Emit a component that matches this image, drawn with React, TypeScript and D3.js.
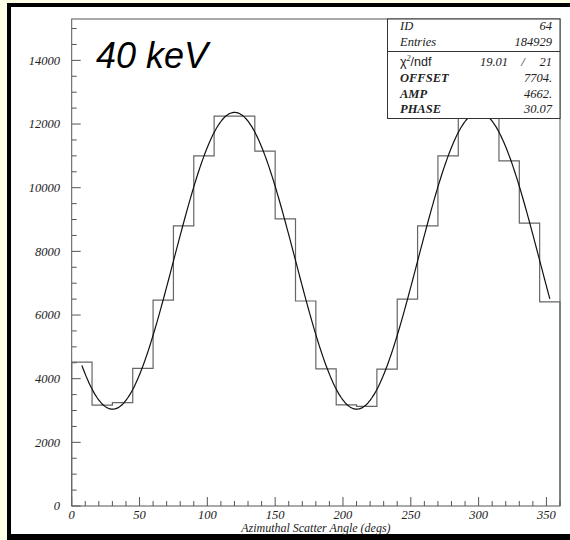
import React, { useEffect } from 'react';
import * as d3 from 'd3';

// histogram: 24 bins of 15 degrees, counts
const binEdges = d3.range(0, 361, 15);
const counts = [
  4520, 3170, 3245, 4325, 6470, 8800, 11000, 12250, 12250, 11150, 9020, 6440,
  4305, 3175, 3130, 4300, 6500, 8800, 11000, 12250, 12250, 10840, 8890, 6410,
];

// fit parameters from the stats box
const fitOffset = 7704;
const fitAmp = 4662;
const fitPhase = 30.07;

const xTicks = [0, 50, 100, 150, 200, 250, 300, 350];
const yTicks = [0, 2000, 4000, 6000, 8000, 10000, 12000, 14000];

const statsRows = [
  { label: 'ID', value: '64' },
  { label: 'Entries', value: '184929' },
];
const fitRows = [
  { label: 'OFFSET', value: '7704.' },
  { label: 'AMP', value: '4662.' },
  { label: 'PHASE', value: '30.07' },
];
const chi2 = '19.01';
const ndf = '21';

const W = 570;
const H = 540;
const serif = '"Liberation Serif", "Times New Roman", serif';
const sans = '"Liberation Sans", Arial, sans-serif';

const App = () => {
  useEffect(() => {
    document.body.style.margin = '0';
    document.body.style.overflow = 'hidden';
  }, []);

  const margin = { left: 71.7, right: 560, top: 19, bottom: 506 };
  const x = d3.scaleLinear().domain([0, 360]).range([margin.left, margin.right]);
  const y = d3.scaleLinear().domain([0, 15300]).range([margin.bottom, margin.top]);

  // step outline of the histogram
  let hist = `M${x(0)},${y(0)}`;
  counts.forEach((c, i) => {
    hist += `V${y(c)}H${x(binEdges[i + 1])}`;
  });
  hist += `V${y(0)}`;

  // fit function drawn between first and last bin centre
  const fit = (a: number) => fitOffset - fitAmp * Math.cos((2 * (a - fitPhase) * Math.PI) / 180);
  const fitPts = d3.range(7.5, 352.51, 1).map((a) => [a, fit(a)] as [number, number]);
  const fitLine = d3
    .line<[number, number]>()
    .x((d) => x(d[0]))
    .y((d) => y(d[1]))
    .curve(d3.curveMonotoneX);

  const xMinor = d3.range(0, 361, 10).filter((v) => v % 50 !== 0);
  const yMinor = d3.range(0, 15001, 500).filter((v) => v % 2000 !== 0);

  const axisColor = '#555';
  const textColor = '#222';

  // stats box geometry
  const boxL = 387.5;
  const boxR = margin.right;
  const boxT = margin.top;
  const boxB = 118.5;
  const sepY = 51.5;
  const labelX = 400;
  const valueX = 552;

  return (
    <svg
      width={W}
      height={H}
      style={{ position: 'absolute', left: 0, top: 0, display: 'block', background: '#fffee6' }}
    >
      <rect x={0} y={0} width={W} height={H} fill="#fffee6" />
      <rect x={9} y={5} width={W + 10} height={531} fill="#fff" stroke="#000" strokeWidth={4} />
      <rect x={7} y={534} width={W} height={6} fill="#000" />

      {/* frame */}
      <rect
        x={margin.left}
        y={margin.top}
        width={margin.right - margin.left}
        height={margin.bottom - margin.top}
        fill="none"
        stroke={axisColor}
        strokeWidth={1}
      />

      {/* y ticks */}
      {yTicks.map((v) => (
        <g key={`y${v}`}>
          <line x1={x(0)} x2={x(0) + 9} y1={y(v)} y2={y(v)} stroke={axisColor} />
          <text
            x={60}
            y={y(v)}
            dy="0.35em"
            textAnchor="end"
            fontFamily={serif}
            fontStyle="italic"
            fontSize={12.5}
            fill={textColor}
          >
            {v}
          </text>
        </g>
      ))}
      {yMinor.map((v) => (
        <line key={`ym${v}`} x1={x(0)} x2={x(0) + 5} y1={y(v)} y2={y(v)} stroke={axisColor} />
      ))}

      {/* x ticks */}
      {xTicks.map((v) => (
        <g key={`x${v}`}>
          <line x1={x(v)} x2={x(v)} y1={y(0)} y2={y(0) - 9} stroke={axisColor} />
          <text
            x={x(v)}
            y={519}
            textAnchor="middle"
            fontFamily={serif}
            fontStyle="italic"
            fontSize={12.5}
            fill={textColor}
          >
            {v}
          </text>
        </g>
      ))}
      {xMinor.map((v) => (
        <line key={`xm${v}`} x1={x(v)} x2={x(v)} y1={y(0)} y2={y(0) - 5} stroke={axisColor} />
      ))}

      <text
        x={(margin.left + margin.right) / 2}
        y={532}
        textAnchor="middle"
        fontFamily={serif}
        fontStyle="italic"
        fontSize={12}
        fill={textColor}
      >
        Azimuthal Scatter Angle (degs)
      </text>

      {/* histogram and fit */}
      <path d={hist} fill="none" stroke="#666" strokeWidth={1.2} />
      <path d={fitLine(fitPts) || ''} fill="none" stroke="#111" strokeWidth={1.2} />

      {/* stats box */}
      <rect x={boxL} y={boxT} width={boxR - boxL} height={boxB - boxT} fill="#fff" stroke="#333" />
      <line x1={boxL} x2={boxR} y1={sepY} y2={sepY} stroke="#333" />
      <g fontFamily={serif} fontStyle="italic" fontSize={12.5} fill={textColor}>
        {statsRows.map((r, i) => (
          <g key={r.label}>
            <text x={labelX} y={30 + i * 15.5}>{r.label}</text>
            <text x={valueX} y={30 + i * 15.5} textAnchor="end">{r.value}</text>
          </g>
        ))}
        <text x={labelX} y={66}>
          <tspan fontFamily={sans} fontStyle="normal">χ</tspan>
          <tspan fontSize={8} dy={-5}>2</tspan>
          <tspan fontFamily={sans} fontStyle="normal" dy={5}>/ndf</tspan>
        </text>
        <text x={508} y={66} textAnchor="end">{chi2}</text>
        <text x={523} y={66} textAnchor="middle">/</text>
        <text x={valueX} y={66} textAnchor="end">{ndf}</text>
        {fitRows.map((r, i) => (
          <g key={r.label}>
            <text x={labelX} y={82 + i * 15.5} fontWeight="bold">{r.label}</text>
            <text x={valueX} y={82 + i * 15.5} textAnchor="end">{r.value}</text>
          </g>
        ))}
      </g>

      <text x={96} y={68} fontFamily={sans} fontStyle="italic" fontSize={36} fill="#000">
        40 keV
      </text>
    </svg>
  );
};

export default App;
